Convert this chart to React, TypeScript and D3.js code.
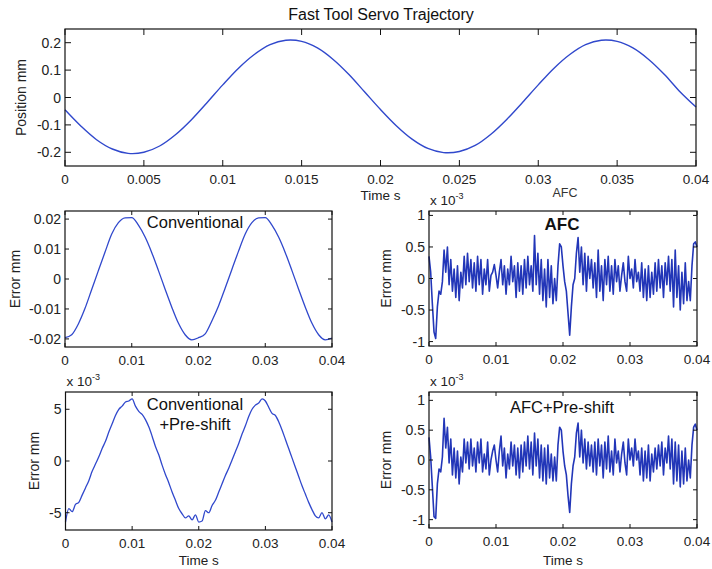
import * as d3 from "d3";
import React, {useRef, useEffect} from "react";

// sample times (s)
const trajTime = d3.range(41).map(i => i * 0.001);
const convTime = d3.range(41).map(i => i * 0.001);
const preshiftTime = d3.range(81).map(i => i * 0.0005);
const afcTime = d3.range(161).map(i => i * 0.00025);

// Fast tool servo position (mm)
const trajPosition = [-0.045,-0.104,-0.154,-0.188,-0.204,-0.200,-0.177,-0.136,-0.082,-0.019,
    0.046,0.107,0.157,0.193,0.209,0.205,0.181,0.139,0.084,0.020,
    -0.044,-0.103,-0.152,-0.186,-0.201,-0.197,-0.175,-0.134,-0.080,-0.018,
    0.046,0.107,0.157,0.193,0.209,0.205,0.181,0.139,0.084,0.020,-0.035];

// conventional error (mm)
const convError = [-0.0196,-0.0186,-0.0150,-0.0098,-0.0035,0.0028,0.0090,0.0150,0.0188,0.0204,
    0.0205,0.0180,0.0140,0.0088,0.0028,-0.0034,-0.0094,-0.0148,-0.0186,-0.0203,
    -0.0196,-0.0183,-0.0140,-0.0090,-0.0030,0.0032,0.0093,0.0150,0.0188,0.0204,
    0.0205,0.0180,0.0140,0.0088,0.0028,-0.0034,-0.0094,-0.0148,-0.0186,-0.0203,-0.0197];

// conventional + pre-shift error (x 1e-3 mm)
const preshiftError = [-5.9,-4.6,-4.9,-4.2,-4.0,-3.3,-2.6,-1.9,-1.0,-0.3,
    0.4,1.2,1.9,2.8,3.6,4.4,5.0,5.3,5.7,5.8,
    6.0,5.3,4.8,4.5,4.0,3.3,2.4,1.4,0.6,-0.4,
    -1.3,-2.1,-3.0,-3.8,-4.6,-5.1,-5.5,-5.3,-5.7,-5.2,
    -5.9,-5.8,-4.8,-5.0,-4.3,-3.8,-3.0,-2.2,-1.4,-0.7,
    0.1,0.9,1.7,2.6,3.4,4.3,5.0,5.4,5.6,6.0,
    5.8,5.2,4.6,4.4,3.8,3.0,2.1,1.2,0.3,-0.6,
    -1.5,-2.4,-3.2,-4.0,-4.7,-5.3,-5.5,-5.0,-5.6,-5.2,-5.9];

// AFC error (x 1e-3 mm)
const afcError = [0.35,0.1,-0.4,-0.85,-0.95,-0.45,-0.2,-0.25,-0.05,0.45,
    0.1,0.5,-0.1,0.3,-0.2,0.15,-0.3,0.2,-0.35,0.1,
    -0.15,0.35,-0.1,0.4,-0.05,0.3,-0.15,0.25,-0.2,0.35,
    -0.1,0.3,-0.25,0.15,-0.1,0.3,-0.2,0.05,0.1,0.22,
    0.05,-0.15,0.1,0.3,-0.1,0.2,-0.25,0.15,-0.1,0.35,
    -0.05,0.2,-0.3,0.25,-0.2,0.2,-0.25,0.3,-0.15,0.35,
    -0.1,0.2,-0.2,0.68,-0.1,0.4,-0.25,0.3,-0.35,0.15,
    -0.45,0.3,-0.3,0.2,-0.4,0.0,-0.35,0.2,0.55,0.5,
    0.2,-0.05,-0.2,-0.55,-0.9,-0.45,-0.1,0.0,0.4,0.65,
    0.1,0.5,-0.1,0.4,-0.2,0.35,0.0,0.3,-0.15,0.25,
    -0.3,0.45,-0.2,0.2,-0.35,0.3,-0.1,0.35,-0.2,0.2,
    -0.25,0.3,-0.05,0.2,-0.2,0.05,0.25,-0.05,-0.2,0.35,
    0.0,0.15,-0.15,0.3,-0.05,0.1,-0.2,0.25,-0.3,0.15,
    -0.35,0.2,-0.3,0.1,-0.25,0.25,-0.2,0.3,-0.15,0.2,
    -0.3,0.25,-0.1,0.35,-0.2,0.3,-0.45,0.45,-0.3,0.2,
    -0.5,0.1,-0.4,0.25,-0.35,-0.05,-0.35,0.2,0.55,0.58,0.5];

// AFC + pre-shift error (x 1e-3 mm)
const afcPreshiftError = [0.38,0.05,-0.45,-0.95,-0.98,-0.4,-0.15,-0.2,0.05,0.7,
    0.2,0.55,-0.05,0.35,-0.25,0.2,-0.3,0.15,-0.4,0.05,
    -0.2,0.35,-0.05,0.3,-0.15,0.35,-0.1,0.2,-0.2,0.3,
    -0.05,0.35,-0.2,0.1,-0.15,0.3,-0.25,0.0,0.15,0.25,
    0.0,-0.2,0.15,0.4,-0.1,0.2,-0.3,0.1,-0.15,0.3,
    -0.1,0.25,-0.25,0.2,-0.3,0.25,-0.2,0.3,-0.1,0.4,
    -0.15,0.3,-0.25,0.45,-0.1,0.35,-0.3,0.25,-0.35,0.2,
    -0.4,0.25,-0.3,0.1,-0.35,0.05,-0.35,0.25,0.55,0.5,
    0.15,-0.1,-0.25,-0.6,-0.88,-0.4,-0.1,0.05,0.45,0.62,
    0.05,0.5,-0.05,0.35,-0.15,0.3,-0.1,0.25,-0.2,0.3,
    -0.25,0.35,-0.1,0.25,-0.3,0.3,-0.15,0.4,-0.2,0.15,
    -0.25,0.35,-0.05,0.15,-0.2,0.1,0.3,-0.05,-0.25,0.35,
    0.0,0.2,-0.1,0.35,0.0,0.15,-0.25,0.2,-0.35,0.15,
    -0.3,0.25,-0.35,0.1,-0.2,0.2,-0.15,0.25,-0.1,0.3,
    -0.25,0.2,-0.05,0.4,-0.15,0.35,-0.4,0.3,-0.35,0.25,
    -0.45,0.15,-0.4,0.2,-0.35,0.0,-0.3,0.25,0.55,0.6,0.5];

// tick values
const topXTicks = [0, 0.005, 0.01, 0.015, 0.02, 0.025, 0.03, 0.035, 0.04];
const errXTicks = [0, 0.01, 0.02, 0.03, 0.04];
const topYTicks = [-0.2, -0.1, 0, 0.1, 0.2];
const convYTicks = [-0.02, -0.01, 0, 0.01, 0.02];
const preshiftYTicks = [-5, 0, 5];
const afcYTicks = [-1, -0.5, 0, 0.5, 1];

const FONT = "'Liberation Sans', Arial, Helvetica, sans-serif";
const LINE = "#3048cc";
const NOISY_LINE = "#2236b8";

const fmt = v => String(+v.toFixed(4));

function drawPanel(svg, p) {
    const x = d3.scaleLinear().domain([0, 0.04]).range([p.left, p.right]);
    const y = d3.scaleLinear().domain(p.yDomain).range([p.bottom, p.top]);
    const g = svg.append("g");
    const tl = p.tickLen;

    const line = d3.line()
        .x((d, i) => x(p.time[i]))
        .y(d => y(d))
        .curve(p.curve || d3.curveLinear);

    g.append("path")
        .datum(p.values)
        .attr("d", line)
        .attr("fill", "none")
        .attr("stroke", p.color || LINE)
        .attr("stroke-width", p.lineWidth || 1.3)
        .attr("stroke-linejoin", "round");

    g.append("rect")
        .attr("x", p.left).attr("y", p.top)
        .attr("width", p.right - p.left).attr("height", p.bottom - p.top)
        .attr("fill", "none").attr("stroke", "#111").attr("stroke-width", 1.2);

    p.xTicks.forEach(t => {
        g.append("line").attr("x1", x(t)).attr("x2", x(t)).attr("y1", p.bottom).attr("y2", p.bottom - tl)
            .attr("stroke", "#111");
        g.append("line").attr("x1", x(t)).attr("x2", x(t)).attr("y1", p.top).attr("y2", p.top + tl)
            .attr("stroke", "#111");
        g.append("text").attr("x", x(t)).attr("y", p.bottom + 18)
            .attr("text-anchor", "middle").attr("font-size", 13.5).attr("font-family", FONT).attr("fill", "#222")
            .text(fmt(t));
    });

    p.yTicks.forEach(t => {
        g.append("line").attr("x1", p.left).attr("x2", p.left + tl).attr("y1", y(t)).attr("y2", y(t))
            .attr("stroke", "#111");
        g.append("line").attr("x1", p.right).attr("x2", p.right - tl).attr("y1", y(t)).attr("y2", y(t))
            .attr("stroke", "#111");
        g.append("text").attr("x", p.left - 4).attr("y", y(t) + 5)
            .attr("text-anchor", "end").attr("font-size", 14).attr("font-family", FONT).attr("fill", "#222")
            .text(fmt(t));
    });

    g.append("text")
        .attr("transform", `translate(${p.ylabelX},${(p.top + p.bottom) / 2}) rotate(-90)`)
        .attr("text-anchor", "middle").attr("font-size", 14).attr("font-family", FONT).attr("fill", "#222")
        .text(p.ylabel);

    if (p.xlabelY) {
        g.append("text").attr("x", (p.left + p.right) / 2).attr("y", p.xlabelY)
            .attr("text-anchor", "middle").attr("font-size", 13.5).attr("font-family", FONT).attr("fill", "#222")
            .text("Time s");
    }

    if (p.exponent) {
        const e = g.append("text").attr("x", p.left + 1).attr("y", p.top - 6)
            .attr("font-size", 13.5).attr("font-family", FONT).attr("fill", "#222");
        e.append("tspan").text("x 10");
        e.append("tspan").attr("font-size", 9).attr("dy", -6).text("-3");
    }

    (p.labels || []).forEach((lab, i) => {
        g.append("text").attr("x", p.labelX).attr("y", p.labelY + i * 20)
            .attr("text-anchor", "middle").attr("font-size", p.labelSize || 16.5).attr("font-family", FONT)
            .attr("fill", "#111").attr("font-weight", p.labelBold ? "bold" : "normal")
            .text(lab);
    });
}

function App() {
    const ref = useRef();

    useEffect(() => {
        const svg = d3.select(ref.current);
        svg.selectAll("*").remove();

        svg.append("rect").attr("width", 712).attr("height", 569).attr("fill", "#fff");

        drawPanel(svg, {
            left: 65, right: 696, top: 29, bottom: 166, yDomain: [-0.25, 0.25],
            time: trajTime, values: trajPosition, curve: d3.curveCatmullRom,
            xTicks: topXTicks, yTicks: topYTicks, tickLen: 6,
            ylabel: "Position mm", ylabelX: 26, xlabelY: 200, lineWidth: 1.4,
        });

        svg.append("text").attr("x", 381).attr("y", 20)
            .attr("text-anchor", "middle").attr("font-size", 16).attr("font-family", FONT).attr("fill", "#111")
            .text("Fast Tool Servo Trajectory");

        drawPanel(svg, {
            left: 65, right: 332, top: 211, bottom: 347, yDomain: [-0.0227, 0.0227],
            time: convTime, values: convError, curve: d3.curveMonotoneX,
            xTicks: errXTicks, yTicks: convYTicks, tickLen: 4,
            ylabel: "Error mm", ylabelX: 20,
            labels: ["Conventional"], labelX: 195, labelY: 228,
        });

        drawPanel(svg, {
            left: 429, right: 697, top: 211, bottom: 346, yDomain: [-1.07, 1.07],
            time: afcTime, values: afcError, lineWidth: 1.6, color: NOISY_LINE,
            xTicks: errXTicks, yTicks: afcYTicks, tickLen: 4,
            ylabel: "Error mm", ylabelX: 391, exponent: true,
            labels: ["AFC"], labelX: 562, labelY: 230, labelBold: true, labelSize: 17,
        });

        svg.append("text").attr("x", 565).attr("y", 197)
            .attr("text-anchor", "middle").attr("font-size", 12.5).attr("font-family", FONT).attr("fill", "#333")
            .text("AFC");

        drawPanel(svg, {
            left: 65.5, right: 332, top: 392, bottom: 530, yDomain: [-6.67, 6.67],
            time: preshiftTime, values: preshiftError, curve: d3.curveMonotoneX,
            xTicks: errXTicks, yTicks: preshiftYTicks, tickLen: 4,
            ylabel: "Error mm", ylabelX: 39, exponent: true, xlabelY: 565,
            labels: ["Conventional", "+Pre-shift"], labelX: 195, labelY: 410,
        });

        drawPanel(svg, {
            left: 429, right: 697, top: 392, bottom: 528, yDomain: [-1.14, 1.14],
            time: afcTime, values: afcPreshiftError, lineWidth: 1.6, color: NOISY_LINE,
            xTicks: errXTicks, yTicks: afcYTicks, tickLen: 4,
            ylabel: "Error mm", ylabelX: 391, exponent: true, xlabelY: 565,
            labels: ["AFC+Pre-shift"], labelX: 562, labelY: 413,
        });
    }, []);

    return (
        <svg ref={ref} width={712} height={569}
            style={{position: "absolute", left: 0, top: 0}} />
    );
}

export default App;
